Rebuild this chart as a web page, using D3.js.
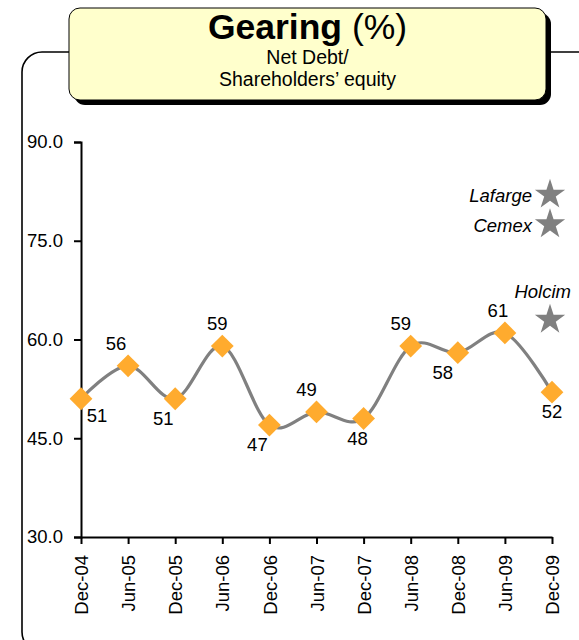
<!DOCTYPE html>
<html>
<head>
<meta charset="utf-8">
<script src="https://cdn.jsdelivr.net/npm/d3@7"></script>
<style>
  html, body { margin: 0; padding: 0; background: #fff; }
  svg { display: block; font-family: Arial, "Liberation Sans", sans-serif; }
</style>
</head>
<body>
<svg id="chart" width="579" height="640"></svg>
<script>
// Gearing: net debt / shareholders' equity, half-yearly
const periods = ["Dec-04", "Jun-05", "Dec-05", "Jun-06", "Dec-06", "Jun-07",
                 "Dec-07", "Jun-08", "Dec-08", "Jun-09", "Dec-09"];
const gearing = [51, 56, 51, 59, 47, 49, 48, 59, 58, 61, 52];
// where each value label sits relative to its marker
const labelSide = ["below", "above", "below", "above", "below", "above",
                   "below", "above", "below", "above", "below"];
const labelShift = [16, -12, -12, -5, -12, -10, -6, -10, -15, -7, 0];
const yTicks = [30, 45, 60, 75, 90];

// peers, shown as stars at the latest period
const peers = ["Lafarge", "Cemex", "Holcim"];
const peerGearing = [82, 77.5, 63];

const FONT = "Arial, 'Liberation Sans', sans-serif";
const svg = d3.select("#chart");

// outer rounded frame (runs off the right and bottom edges)
svg.append("rect")
  .attr("x", 22).attr("y", 52)
  .attr("width", 600).attr("height", 600)
  .attr("rx", 20).attr("ry", 20)
  .attr("fill", "none").attr("stroke", "#000").attr("stroke-width", 1.6);

// title box with a solid drop shadow
const tb = { x: 69, y: 8, w: 477, h: 92 };
svg.append("rect")
  .attr("x", tb.x + 5).attr("y", tb.y + 5)
  .attr("width", tb.w).attr("height", tb.h)
  .attr("rx", 11).attr("fill", "#000");
svg.append("rect")
  .attr("x", tb.x).attr("y", tb.y)
  .attr("width", tb.w).attr("height", tb.h)
  .attr("rx", 11).attr("fill", "#FFFFCC")
  .attr("stroke", "#000").attr("stroke-width", 1);

const cx = tb.x + tb.w / 2;
const t1 = svg.append("text")
  .attr("x", cx).attr("y", 39)
  .attr("text-anchor", "middle")
  .attr("font-size", 35.5).attr("fill", "#000");
t1.append("tspan").attr("font-weight", "bold").text("Gearing");
t1.append("tspan").text(" (%)");
svg.append("text")
  .attr("x", cx).attr("y", 63.5)
  .attr("text-anchor", "middle").attr("font-size", 19.5)
  .text("Net Debt/");
svg.append("text")
  .attr("x", cx).attr("y", 85.5)
  .attr("text-anchor", "middle").attr("font-size", 19.5)
  .text("Shareholders\u2019 equity");

// scales
const x = d3.scalePoint().domain(periods).range([81, 552]);
const y = d3.scaleLinear().domain([30, 90]).range([537, 142]);

// y axis
const yAxis = svg.append("g")
  .attr("transform", "translate(81,0)")
  .call(d3.axisLeft(y).tickValues(yTicks).tickFormat(d3.format(".1f"))
    .tickSize(7).tickPadding(11));
yAxis.select(".domain").attr("stroke-width", 2);
yAxis.selectAll(".tick line").attr("stroke-width", 2);
yAxis.selectAll(".tick text").attr("font-size", 18.5).attr("fill", "#000")
  .attr("font-family", FONT);

// x axis
const xAxis = svg.append("g")
  .attr("transform", "translate(0,537)")
  .call(d3.axisBottom(x).tickSize(7).tickSizeOuter(0));
xAxis.select(".domain").attr("stroke-width", 2);
xAxis.selectAll(".tick line").attr("stroke-width", 2);
xAxis.selectAll(".tick text")
  .attr("font-size", 18.5).attr("fill", "#000")
  .attr("font-family", FONT)
  .attr("text-anchor", "end")
  .attr("transform", "translate(0,18) rotate(-90)")
  .attr("x", 0).attr("y", 0).attr("dy", "0.36em");

// smoothed gearing line
const pts = periods.map((p, i) => ({ p, v: gearing[i], i }));
svg.append("path")
  .datum(pts)
  .attr("fill", "none")
  .attr("stroke", "#808080")
  .attr("stroke-width", 3.2)
  .attr("d", d3.line().x(d => x(d.p)).y(d => y(d.v)).curve(d3.curveCatmullRom.alpha(0)));

// diamond markers
svg.append("g").selectAll("path")
  .data(pts).join("path")
  .attr("transform", d => `translate(${x(d.p)},${y(d.v)}) rotate(45)`)
  .attr("d", d3.symbol().type(d3.symbolSquare).size(260))
  .attr("fill", "#FFAB2E");

// value labels
svg.append("g").selectAll("text")
  .data(pts).join("text")
  .attr("x", d => x(d.p) + labelShift[d.i])
  .attr("y", d => y(d.v) + (labelSide[d.i] === "above" ? -16 : (d.i === 0 ? 23 : 26)))
  .attr("text-anchor", "middle")
  .attr("font-size", 18.5).attr("fill", "#000")
  .text(d => d3.format("d")(d.v));

// peer stars and their names
const peerData = peers.map((n, i) => ({ n, v: peerGearing[i] }));
const sx = x(periods[periods.length - 1]) - 2;
svg.append("g").selectAll("path")
  .data(peerData).join("path")
  .attr("transform", d => `translate(${sx},${y(d.v)})`)
  .attr("d", d3.symbol().type(d3.symbolStar).size(285))
  .attr("fill", "#808080");
svg.append("g").selectAll("text")
  .data(peerData).join("text")
  .attr("x", d => d.n === "Holcim" ? 571 : 532)
  .attr("y", d => d.n === "Holcim" ? y(d.v) - 22 : y(d.v) + 7.5)
  .attr("text-anchor", "end")
  .attr("font-size", 18.5).attr("font-style", "italic").attr("fill", "#000")
  .text(d => d.n);
</script>
</body>
</html>
